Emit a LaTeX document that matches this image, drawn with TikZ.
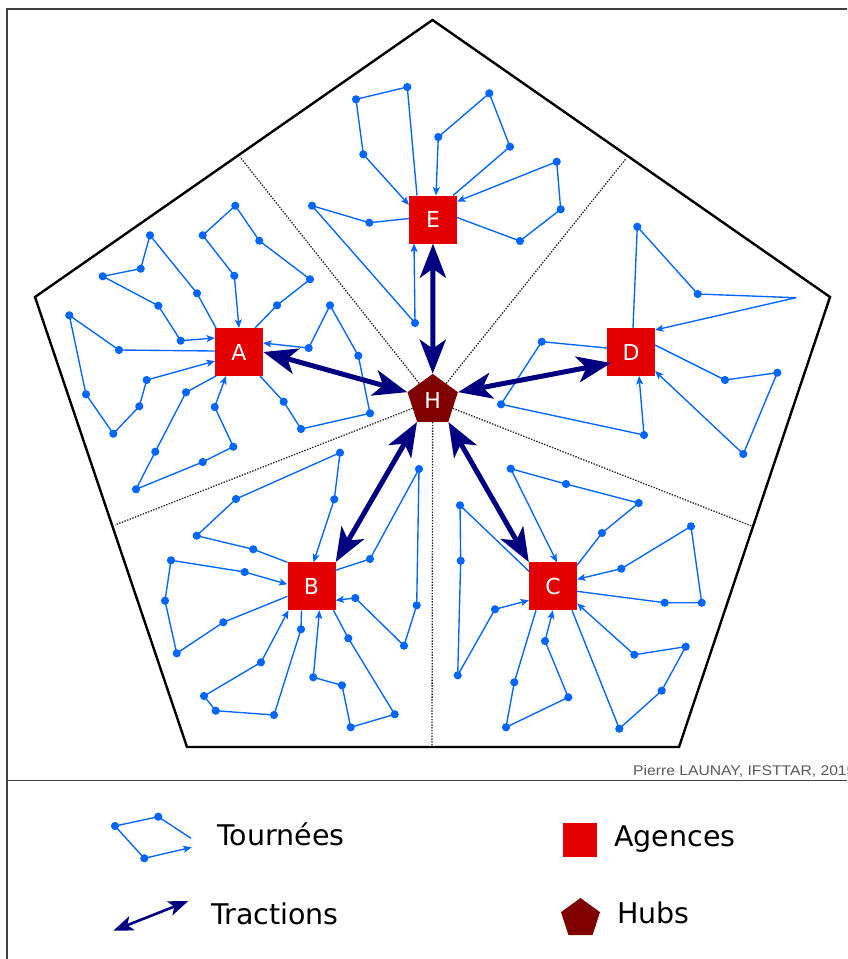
\documentclass[tikz,border=0pt]{standalone}
\usepackage{fontspec}
\setmainfont{DejaVu Sans}
\newfontfamily\creditfont[FakeStretch=1.12]{Liberation Sans}
\usetikzlibrary{arrows.meta,calc,shapes.geometric}
\definecolor{tourblue}{RGB}{0,102,255}
\definecolor{agred}{RGB}{226,0,0}
\definecolor{hubred}{RGB}{128,0,0}
\definecolor{tracnavy}{RGB}{0,0,128}
\newcommand\tournee[4]{%
  \draw[tourline] ($(#1)+(#2)$) \foreach \px/\py in {#3}{ -- (\px,\py) } -- ($(#1)+(#4)$);
  \foreach \px/\py in {#3}{\fill[tourblue] (\px,\py) circle[radius=4.1pt];}
}
\begin{document}
\begin{tikzpicture}[x=1pt,y=-1pt,
  tourline/.style={draw=tourblue, line width=1.35pt, line join=round,
    -{Stealth[length=8.5pt,width=7pt,inset=2pt]}},
  traction/.style={draw=tracnavy, line width=5pt,
    {Stealth[length=34pt,width=26pt,inset=9pt]}-{Stealth[length=34pt,width=26pt,inset=9pt]}},
  agency/.style={fill=agred, minimum size=48pt, inner sep=0pt, text=white,
    font=\fontsize{22}{22}\selectfont},
  hub/.style={regular polygon, regular polygon sides=5, fill=hubred, minimum size=53pt,
    inner sep=0pt, text=white, font=\fontsize{22}{22}\selectfont},
  sector/.style={draw=black!85, line width=1.3pt, dash pattern=on 1.4pt off 1.4pt},
  outline/.style={draw=black, line width=2.4pt, line join=miter},
  legtext/.style={anchor=base west, inner sep=0pt, font=\fontsize{28.5}{30}\selectfont}]
\useasboundingbox (0,0) rectangle (847,959);
\clip (0,0) rectangle (847,959);
\fill[white] (0,0) rectangle (847,959);
% frame
\draw[black!75, line width=1.5pt] (7,9) rectangle (900,1000);
\draw[black!75, line width=1.5pt] (7,780.7) -- (900,780.7);
% outer pentagon
\coordinate (P1) at (432.5,20);
\coordinate (P2) at (830,297);
\coordinate (P3) at (679,747);
\coordinate (P4) at (187,747);
\coordinate (P5) at (35,297);
\draw[outline] (P1) -- (P2) -- (P3) -- (P4) -- (P5) -- cycle;
% sector ends
\coordinate (S1) at (240,157);
\coordinate (S2) at (625.7,159);
\coordinate (S3) at (751.7,526);
\coordinate (S4) at (432,747);
\coordinate (S5) at (115,525);
% nodes
\node[agency] (A) at (239,352) {A};
\node[agency] (E) at (433,219.5) {E};
\node[agency] (D) at (631,352) {D};
\node[agency] (B) at (311.5,586.3) {B};
\node[agency] (C) at (553,586.3) {C};
\node[hub] (H) at (432.7,400.4) {H};
\foreach \s in {S1,S2,S3,S4,S5} \draw[sector] (H) -- (\s);
% tours A
\tournee{A}{16,-24}{277/305.3, 310/279.3, 259.3/240.7, 235.3/205.7, 202.7/235.3, 234.3/275.7}{0,-24}
\tournee{A}{-23,-24}{197/293.3, 150/235.3, 140.7/268.7, 102.7/276.3, 158.3/305.7, 180.7/340.7}{-24,-14}
\tournee{A}{-24,-1}{119/350, 69.3/315.3, 86/394.3, 113.3/433.7, 139.3/406.3, 146.7/380}{-24,9}
\tournee{A}{-23,24}{186/392.3, 155.3/451.7, 136/489.3, 202.7/462, 233.3/446.7, 214.7/407}{-13,24}
\tournee{A}{21,24}{283.7/401.7, 301/429, 370/413.3, 358.3/355.7, 330/305.3, 308.7/348}{24,-9}
% tours E
\tournee{E}{-16,-24}{407.3/87, 356/99.3, 363.3/154.3}{-24,-14.5}
\tournee{E}{-24,-1}{369.3/222.7, 312/205.7, 415/323}{-19,24}
\tournee{E}{20,-24}{510/146.7, 489.3/93.3, 438.3/137}{3,-24}
\tournee{E}{24,-2}{520/241, 560.7/209.3, 556.7/161.7}{24,-18}
% tours D
\draw[tourline] ($(D)+(2,-24)$) -- (637.3,226.7) -- (697.7,294) -- (796,297.7) -- ($(D)+(24,-22)$);
\fill[tourblue] (637.3,226.7) circle[radius=4.1pt] (697.7,294) circle[radius=4.1pt];
\tournee{D}{-24,-4}{541.7/341.7, 501/404.3, 644/435}{8,24}
\tournee{D}{24,-7}{725/380, 777.3/372.7, 743.3/454}{24,19}
% tours B
\tournee{B}{-24,-24}{253.3/549.3, 196.7/535.7, 236/499, 340/452.7, 334.3/499.3}{2,-24}
\tournee{B}{-24,10}{223.3/622.3, 176.7/653.3, 165/600.7, 171/560.3, 244.7/572}{-24,-2}
\tournee{B}{-10,24}{301/629.3, 274/715, 215.7/710.7, 204/696, 261/662.3}{-23,24}
\tournee{B}{22,24}{348.3/638.3, 394.7/714.3, 350.7/727.3, 342/685.3, 313.3/677.3}{8,24}
\tournee{B}{24,-16}{370/559, 419/469, 416.7/605.3, 404/645.7, 355.3/598}{24,14}
% tours C
\tournee{C}{24,-21}{602/533, 638.7/503, 566/484, 510.7/468.7}{4,-24}
\tournee{C}{-24,-15}{460/505.3, 460.7/560.7, 457.7/675.3, 495/609.3}{-24,14}
\tournee{C}{24,5}{664.7/602.7, 701.7/602.7, 691/526.3, 621.3/568.7}{24,-7}
\tournee{C}{19,24}{619.3/728.7, 661.7/690.7, 685.7/646.7, 634.3/654.7}{24,17}
\tournee{C}{-17,24}{514.3/682.3, 506/727.3, 568.3/697.3, 545/641}{0,24}
% tractions
\draw[traction] (A.east) -- (H.corner 2);
\draw[traction] (E.south) -- (H.corner 1);
\draw[traction] (H.corner 5) -- ($(D)+(-20,11)$);
\draw[traction] (H.corner 3) -- (B.north east);
\draw[traction] (H.corner 4) -- (C.north west);
% credit
\node[anchor=base west, inner sep=0pt, text=black!65, font=\creditfont\fontsize{14}{15}\selectfont] (credit) at (633,775) {Pierre LAUNAY, IFSTTAR, 2015};
% legend
\draw[tourline] (191,838.3) -- (158.3,816.7) -- (115,826) -- (144.3,858.3) -- (191.7,847.3);
\fill[tourblue] (158.3,816.7) circle[radius=4.1pt] (115,826) circle[radius=4.1pt] (144.3,858.3) circle[radius=4.1pt];
\coordinate (trA) at (113.3,930.7);
\coordinate (trB) at (188.3,901);
\draw[draw=tracnavy, line width=2.6pt,
  {Stealth[length=20pt,width=15pt,inset=5pt]}-{Stealth[length=20pt,width=15pt,inset=5pt]}] (trA) -- (trB);
\node[legtext] (lTour) at (217,845.7) {Tournées};
\node[legtext] (lTrac) at (211,924) {Tractions};
\node[agency, minimum size=34pt] (legA) at (579.5,840) {};
\node[legtext] (lAg) at (614,846) {Agences};
\node[hub, minimum size=41pt] (legH) at (580.5,918.5) {};
\node[legtext] (lHub) at (617,923) {Hubs};
\end{tikzpicture}
\end{document}
